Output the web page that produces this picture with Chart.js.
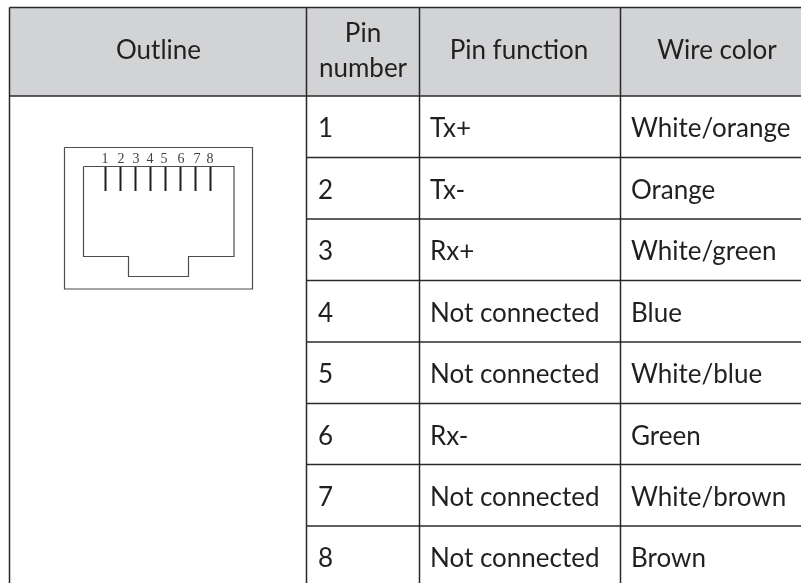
<!DOCTYPE html>
<html>
<head>
<meta charset="utf-8">
<title>Pin outline</title>
<script src="https://cdn.jsdelivr.net/npm/chart.js@4"></script>
<style>
    html, body { margin: 0; padding: 0; background: #ffffff; }
    canvas { display: block; }
</style>
</head>
<body>
<canvas id="grafico" width="801" height="583"></canvas>
<script>
// Table content
const cabecalhos = ["Outline", ["Pin", "number"], "Pin function", "Wire color"];
const pinos = ["1", "2", "3", "4", "5", "6", "7", "8"];
const funcoes = ["Tx+", "Tx-", "Rx+", "Not connected", "Not connected", "Rx-", "Not connected", "Not connected"];
const cores = ["White/orange", "Orange", "White/green", "Blue", "White/blue", "Green", "White/brown", "Brown"];

// Table lines, in axis units
const colunas = [9.5, 306.5, 419.5, 620.5];
const linhas = [7.5, 96, 157.5, 219, 280.5, 342, 403.5, 464.5, 526];

// Connector drawing, in axis units
const contornoExterno = [[64.5, 147.5], [252.5, 147.5], [252.5, 289], [64.5, 289], [64.5, 147.5]];
const contornoEntalhe = [[83.5, 166.5], [234, 166.5], [234, 256.5], [188.5, 256.5], [188.5, 276.5], [128.5, 276.5], [128.5, 256.5], [83.5, 256.5], [83.5, 166.5]];
const pinosX = [105.5, 120.5, 135.5, 150.5, 165.5, 180.5, 195.5, 210.5];
const rotulosX = [105, 121, 136, 150, 164, 181, 197, 210];

const corTexto = "#231f20";
const corLinha = "#2b2829";
const fonte = "Lato";

function pontos(lista) {
    return lista.map((p) => ({ x: p[0], y: p[1] }));
}

function segmento(dados, cor, largura) {
    return { type: "line", data: dados, borderColor: cor, borderWidth: largura, pointRadius: 0, fill: false, tension: 0 };
}

const conjuntos = [];

// Horizontal table lines
linhas.forEach((y, i) => {
    const inicio = i < 2 ? colunas[0] : colunas[1];
    conjuntos.push(segmento(pontos([[inicio, y], [801, y]]), corLinha, 1.5));
});

// Vertical table lines
colunas.forEach((x) => {
    conjuntos.push(segmento(pontos([[x, linhas[0]], [x, 583]]), corLinha, 1.5));
});

// Connector outline and pins
conjuntos.push(segmento(pontos(contornoExterno), "#4d4d4f", 1.2));
conjuntos.push(segmento(pontos(contornoEntalhe), "#4d4d4f", 1.2));
pinosX.forEach((x) => {
    conjuntos.push(segmento(pontos([[x, 166.5], [x, 191]]), "#231f20", 2));
});

// Header background, last because Chart.js paints the last dataset first
conjuntos.push({
    type: "line",
    data: pontos([[colunas[0], linhas[1]], [801, linhas[1]]]),
    borderWidth: 0,
    pointRadius: 0,
    backgroundColor: "#d1d3d4",
    fill: { value: linhas[0] },
});

// Draws the table texts through the scales
const textosTabela = {
    id: "textosTabela",
    afterDatasetsDraw(chart) {
        const ctx = chart.ctx;
        const sx = chart.scales.x;
        const sy = chart.scales.y;
        ctx.save();
        ctx.fillStyle = corTexto;
        ctx.font = `26px ${fonte}`;
        ctx.textBaseline = "alphabetic";

        // Header
        ctx.textAlign = "center";
        const centros = [158.5, 363, 519, 717];
        cabecalhos.forEach((texto, i) => {
            if (Array.isArray(texto)) {
                ctx.fillText(texto[0], sx.getPixelForValue(centros[i]), sy.getPixelForValue(42));
                ctx.fillText(texto[1], sx.getPixelForValue(centros[i]), sy.getPixelForValue(76.5));
            } else {
                ctx.fillText(texto, sx.getPixelForValue(centros[i]), sy.getPixelForValue(59));
            }
        });

        // Rows
        ctx.textAlign = "left";
        pinos.forEach((pino, i) => {
            const y = sy.getPixelForValue(linhas[i + 1] + 41);
            ctx.fillText(pino, sx.getPixelForValue(318), y);
            ctx.fillText(funcoes[i], sx.getPixelForValue(430), y);
            ctx.fillText(cores[i], sx.getPixelForValue(631), y);
        });

        // Pin numbers of the connector
        ctx.font = '14px "Liberation Serif"';
        ctx.textAlign = "center";
        ctx.fillStyle = "#414042";
        pinos.forEach((pino, i) => {
            ctx.fillText(pino, sx.getPixelForValue(rotulosX[i]), sy.getPixelForValue(162.5));
        });
        ctx.restore();
    },
};

new Chart(document.getElementById("grafico").getContext("2d"), {
    type: "line",
    data: { datasets: conjuntos },
    plugins: [textosTabela],
    options: {
        responsive: false,
        animation: false,
        layout: { padding: 0 },
        plugins: { legend: { display: false }, tooltip: { enabled: false }, title: { display: false } },
        scales: {
            x: { type: "linear", min: 0, max: 801, display: false },
            y: { type: "linear", min: 0, max: 583, reverse: true, display: false },
        },
    },
});
</script>
</body>
</html>
